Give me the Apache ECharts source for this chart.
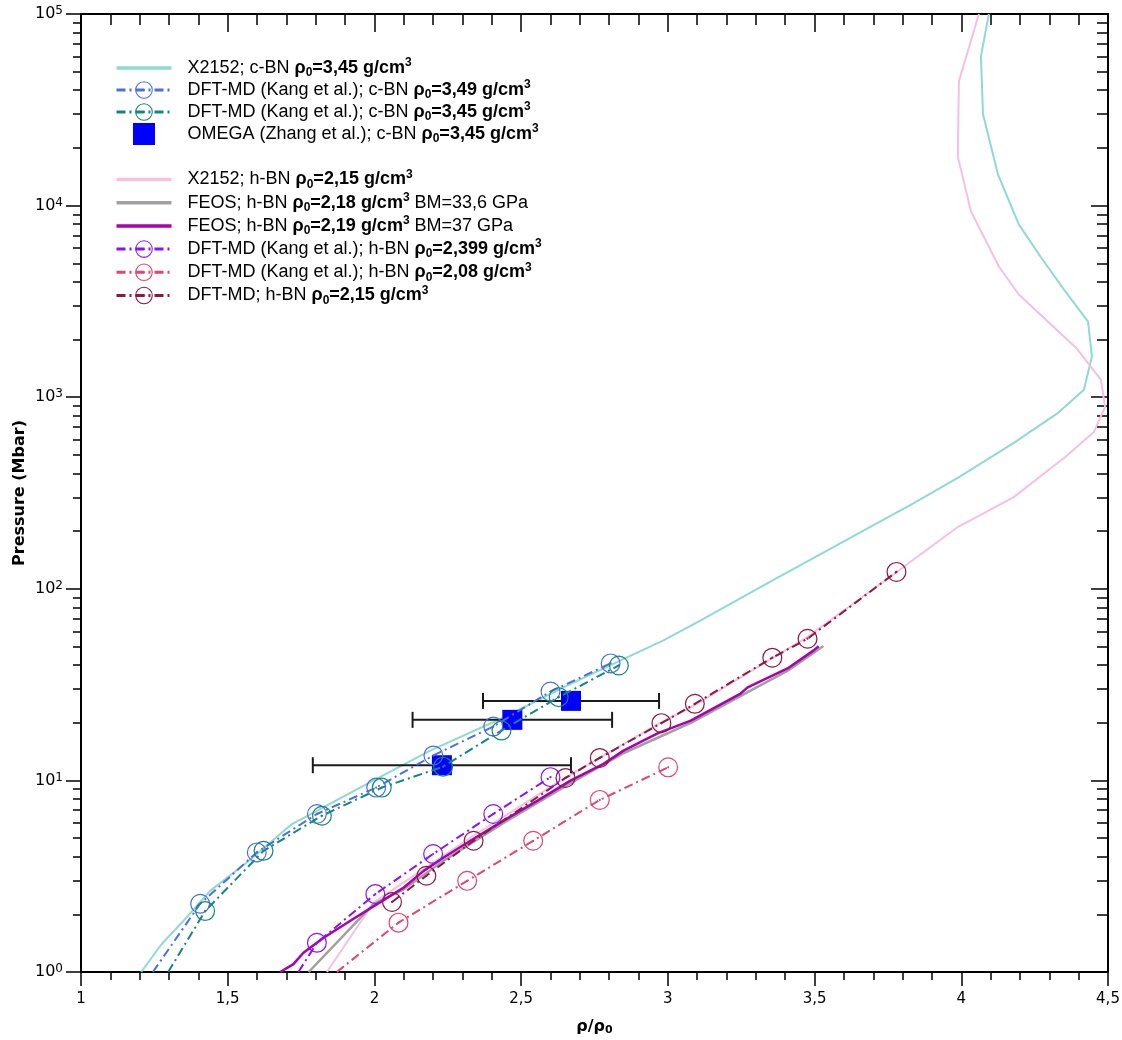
<!DOCTYPE html>
<html>
<head>
<meta charset="utf-8">
<title>BN shock Hugoniot</title>
<script src="https://cdn.jsdelivr.net/npm/echarts@6.0.0/dist/echarts.min.js"></script>
<style>
  html, body { margin: 0; padding: 0; background: #ffffff; }
  #chart { width: 1122px; height: 1040px; }
</style>
</head>
<body>
<div id="chart"></div>
<script>
// ---------------- data: compression ρ/ρ0 and pressure (Mbar) ----------------

// c-BN, X2152 table, ρ0 = 3.45 g/cm3
const cbnX2152Rho = [1.205, 1.275, 1.349, 1.440, 1.565, 1.719, 1.975, 2.19, 2.44, 2.644, 2.839, 2.985,
  3.112, 3.340, 3.589, 3.838, 3.988, 4.179, 4.330, 4.418, 4.445, 4.432, 4.350, 4.272, 4.196, 4.125,
  4.074, 4.067, 4.094];
const cbnX2152P = [1.0, 1.40, 1.85, 2.65, 3.73, 5.92, 9.59, 14.3, 21.3, 30.6, 42.3, 53.8,
  68.5, 107, 173, 280, 379, 578, 829, 1093, 1627, 2477, 3645, 5357, 7976, 14560,
  30000, 60300, 100000];

// c-BN, DFT-MD (Kang et al.), ρ0 = 3.49 g/cm3 (first point: crossing of the 1 Mbar axis)
const cbnKang349Rho = [1.245, 1.406, 1.599, 1.804, 2.006, 2.201, 2.405, 2.600, 2.805];
const cbnKang349P = [1.0, 2.27, 4.21, 6.68, 9.17, 13.5, 19.1, 29.1, 40.8];

// c-BN, DFT-MD (Kang et al.), ρ0 = 3.45 g/cm3
const cbnKang345Rho = [1.297, 1.423, 1.622, 1.821, 2.025, 2.234, 2.433, 2.628, 2.833];
const cbnKang345P = [1.0, 2.08, 4.29, 6.54, 9.17, 11.8, 18.2, 27.2, 39.8];

// c-BN, OMEGA laser shots (Zhang et al.) with ρ/ρ0 uncertainty
const omegaRho = [2.23, 2.47, 2.67];
const omegaP = [12.0, 20.7, 26.0];
const omegaRhoErr = [0.44, 0.34, 0.30];

// h-BN, X2152 table, ρ0 = 2.15 g/cm3
const hbnX2152Rho = [1.838, 1.997, 2.327, 2.634, 2.975, 3.078, 3.475, 3.779, 3.988, 4.179, 4.350,
  4.452, 4.490, 4.476, 4.391, 4.196, 4.128, 4.033, 3.988, 3.992, 4.060];
const hbnX2152P = [1.0, 2.30, 5.02, 9.97, 20.0, 24.0, 56.0, 122, 210, 301, 482,
  659, 891, 1233, 1812, 3435, 4808, 9330, 18070, 44650, 100000];

// h-BN, FEOS, ρ0 = 2.18 g/cm3, BM = 33.6 GPa
const hbnFeos218Rho = [1.776, 1.997, 2.10, 2.24, 2.44, 2.67, 2.85, 3.08, 3.25, 3.41, 3.53];
const hbnFeos218P = [1.0, 2.26, 2.70, 3.85, 6.0, 9.7, 13.9, 20.0, 27.7, 37.5, 50.3];

// h-BN, FEOS, ρ0 = 2.19 g/cm3, BM = 37 GPa
const hbnFeos219Rho = [1.679, 1.724, 1.758, 1.827, 1.918, 2.009, 2.100, 2.168, 2.236, 2.327, 2.44,
  2.556, 2.668, 2.781, 2.849, 2.965, 3.078, 3.248, 3.272, 3.408, 3.497, 3.514];
const hbnFeos219P = [1.0, 1.10, 1.26, 1.51, 1.85, 2.26, 2.76, 3.37, 3.96, 4.84, 6.17,
  7.84, 9.97, 12.2, 14.3, 17.6, 20.5, 28.4, 30.6, 38.4, 47.7, 50.1];

// h-BN, DFT-MD (Kang et al.), ρ0 = 2.399 g/cm3
const hbnKang2399Rho = [1.741, 1.804, 2.003, 2.200, 2.405, 2.600];
const hbnKang2399P = [1.0, 1.42, 2.55, 4.13, 6.68, 10.4];

// h-BN, DFT-MD (Kang et al.), ρ0 = 2.08 g/cm3
const hbnKang208Rho = [1.872, 2.082, 2.316, 2.541, 2.768, 3.001];
const hbnKang208P = [1.0, 1.81, 2.99, 4.84, 7.91, 11.7];

// h-BN, DFT-MD, ρ0 = 2.15 g/cm3
const hbnDft215Rho = [2.060, 2.177, 2.338, 2.651, 2.768, 2.978, 3.092, 3.356, 3.476, 3.779];
const hbnDft215P = [2.32, 3.18, 4.84, 10.3, 13.1, 19.9, 25.1, 43.7, 54.9, 122.5];

// axis ticks
const pressureDecades = [1, 10, 100, 1000, 10000, 100000];
const pressureMinor = [];
pressureDecades.slice(0, -1).forEach(d => { for (let k = 2; k <= 9; k++) pressureMinor.push(d * k); });

// legend entries (two blocks)
const NAMES = {
  cbnX2152: 'X2152; c-BN ρ0=3,45 g/cm3',
  cbnKang349: 'DFT-MD (Kang et al.); c-BN ρ0=3,49 g/cm3',
  cbnKang345: 'DFT-MD (Kang et al.); c-BN ρ0=3,45 g/cm3',
  omega: 'OMEGA (Zhang et al.); c-BN ρ0=3,45 g/cm3',
  hbnX2152: 'X2152; h-BN ρ0=2,15 g/cm3',
  hbnFeos218: 'FEOS; h-BN ρ0=2,18 g/cm3 BM=33,6 GPa',
  hbnFeos219: 'FEOS; h-BN ρ0=2,19 g/cm3 BM=37 GPa',
  hbnKang2399: 'DFT-MD (Kang et al.); h-BN ρ0=2,399 g/cm3',
  hbnKang208: 'DFT-MD (Kang et al.); h-BN ρ0=2,08 g/cm3',
  hbnDft215: 'DFT-MD; h-BN ρ0=2,15 g/cm3'
};

// ---------------- styling ----------------
const FONT_TEXT = '"Liberation Sans", Arial, sans-serif';
const FONT_AXIS = '"DejaVu Sans", Verdana, sans-serif';

// open circle with a centre dot
const RING = 'path://M10 0A10 10 0 1 1 10 20A10 10 0 1 1 10 0ZM10 1.2A8.8 8.8 0 1 0 10 18.8A8.8 8.8 0 1 0 10 1.2ZM10 8.9A1.1 1.1 0 1 1 10 11.1A1.1 1.1 0 1 1 10 8.9Z';
const SQUARE = 'path://M0 0L20 0L20 20L0 20Z';
const BAR = 'path://M0 0L55 0L55 3.5L0 3.5Z';
const DASH_DOT = [9, 4, 2, 4];

const COLORS = {
  cbnX2152: '#8fdad1',
  cbnKang349: '#4b6fe0',
  cbnKang345: '#15857f',
  omega: '#0000ff',
  hbnX2152: '#f6c0de',
  hbnFeos218: '#a0a0a0',
  hbnFeos219: '#aa00ad',
  hbnKang2399: '#8a10ff',
  hbnKang208: '#e0466e',
  hbnDft215: '#8e1744'
};
const SOLID_KEYS = ['cbnX2152', 'hbnX2152', 'hbnFeos218', 'hbnFeos219'];

function pairs(xs, ys) { return xs.map((x, i) => [x, ys[i]]); }

function solidLine(key, xs, ys, width, z) {
  const c = COLORS[key];
  return {
    name: NAMES[key], type: 'line', data: pairs(xs, ys), symbol: 'none',
    color: c, itemStyle: { color: c }, lineStyle: { color: c, width: width }, z: z,
    emphasis: { disabled: true }, silent: true
  };
}

function dftLine(key, xs, ys, startsAtAxis) {
  const c = COLORS[key];
  const data = pairs(xs, ys).map((p, i) => (startsAtAxis && i === 0) ? { value: p, symbol: 'none' } : p);
  return {
    name: NAMES[key], type: 'line', data: data, symbol: RING, symbolSize: 20,
    showSymbol: true, showAllSymbol: true, color: c,
    itemStyle: { color: c }, lineStyle: { color: c, width: 2, type: DASH_DOT },
    z: 5, emphasis: { disabled: true }, silent: true
  };
}

const legendRich = {
  b: { fontFamily: FONT_TEXT, fontWeight: 'bold', fontSize: 18, lineHeight: 22, color: '#000' },
  s: { fontFamily: FONT_TEXT, fontWeight: 'bold', fontSize: 12, lineHeight: 14, verticalAlign: 'bottom', color: '#000' },
  p: { fontFamily: FONT_TEXT, fontWeight: 'bold', fontSize: 12, lineHeight: 12, verticalAlign: 'top', color: '#000' }
};
function legendLabel(name) {
  return name.replace(/ρ0=([\d,]+) g\/cm3/, '{b|ρ}{s|0}{b|=$1 g/cm}{p|3}');
}
function legendItem(name) {
  if (name === NAMES.omega) return { name: name, icon: SQUARE };
  const key = Object.keys(NAMES).find(k => NAMES[k] === name);
  if (SOLID_KEYS.indexOf(key) >= 0) return { name: name, icon: BAR };
  return name;
}
function legendBlock(names, top, gap) {
  return {
    show: true, orient: 'vertical', left: 115, top: top, padding: 0,
    itemWidth: 55, itemHeight: 22, itemGap: gap, selectedMode: false,
    data: names.map(legendItem),
    formatter: legendLabel,
    lineStyle: { width: 3 },
    textStyle: { fontFamily: FONT_TEXT, fontSize: 18, lineHeight: 22, color: '#000', padding: [0, 0, 0, 11], rich: legendRich }
  };
}

const tickStyle = { color: '#000', width: 1.5 };
const lineStyleAxis = { color: '#000', width: 2 };

const option = {
  animation: false,
  backgroundColor: '#ffffff',
  grid: { left: 81, right: 14, top: 14, bottom: 68, outerBoundsMode: 'none' },
  legend: [
    legendBlock([NAMES.cbnX2152, NAMES.cbnKang349, NAMES.cbnKang345, NAMES.omega], 57, 0),
    legendBlock([NAMES.hbnX2152, NAMES.hbnFeos218, NAMES.hbnFeos219, NAMES.hbnKang2399, NAMES.hbnKang208, NAMES.hbnDft215], 168.5, 1.2)
  ],
  xAxis: [
    {
      type: 'value', position: 'bottom', min: 1, max: 4.5, interval: 0.5,
      axisLine: { show: true, onZero: false, lineStyle: lineStyleAxis },
      axisTick: { show: true, length: 14, lineStyle: tickStyle },
      minorTick: { show: true, splitNumber: 5, length: 8, lineStyle: tickStyle },
      splitLine: { show: false }, minorSplitLine: { show: false },
      axisLabel: {
        margin: 20, color: '#000', fontFamily: FONT_AXIS, fontSize: 15,
        formatter: v => String(v).replace('.', ',')
      },
      name: '{b|ρ/ρ}{s|0}', nameLocation: 'middle', nameGap: 46,
      nameTextStyle: {
        rich: {
          b: { fontFamily: FONT_AXIS, fontWeight: 'bold', fontSize: 16, lineHeight: 18, color: '#000' },
          s: { fontFamily: FONT_AXIS, fontWeight: 'bold', fontSize: 11, lineHeight: 9, verticalAlign: 'bottom', color: '#000' }
        }
      }
    },
    {
      type: 'value', position: 'top', min: 1, max: 4.5, interval: 0.5,
      axisLine: { show: true, onZero: false, lineStyle: lineStyleAxis },
      axisTick: { show: true, inside: true, length: 18, lineStyle: tickStyle },
      minorTick: { show: true, splitNumber: 5, length: 11, lineStyle: tickStyle },
      splitLine: { show: false }, axisLabel: { show: false }
    }
  ],
  yAxis: [
    {
      type: 'log', logBase: 10, position: 'left', min: 1, max: 100000,
      axisLine: { show: true, onZero: false, lineStyle: lineStyleAxis },
      axisTick: { show: true, length: 15, lineStyle: tickStyle, customValues: pressureDecades },
      minorTick: { show: false }, splitLine: { show: false },
      axisLabel: {
        customValues: pressureDecades, margin: 18, color: '#000',
        fontFamily: FONT_AXIS, fontSize: 16, lineHeight: 18,
        formatter: v => '10{p|' + Math.round(Math.log10(v)) + '}',
        rich: { p: { fontFamily: FONT_AXIS, fontSize: 12, lineHeight: 11, verticalAlign: 'top', color: '#000' } }
      },
      name: 'Pressure (Mbar)', nameLocation: 'middle', nameGap: 53, nameMoveOverlap: false,
      nameTextStyle: { fontFamily: FONT_AXIS, fontWeight: 'bold', fontSize: 16, color: '#000' }
    },
    {
      type: 'log', logBase: 10, position: 'left', min: 1, max: 100000,
      axisLine: { show: false },
      axisTick: { show: true, length: 8, lineStyle: tickStyle, customValues: pressureMinor },
      splitLine: { show: false }, axisLabel: { show: false }
    },
    {
      type: 'log', logBase: 10, position: 'right', min: 1, max: 100000,
      axisLine: { show: true, onZero: false, lineStyle: lineStyleAxis },
      axisTick: { show: true, inside: true, length: 17, lineStyle: tickStyle, customValues: pressureDecades },
      splitLine: { show: false }, axisLabel: { show: false }
    },
    {
      type: 'log', logBase: 10, position: 'right', min: 1, max: 100000,
      axisLine: { show: false },
      axisTick: { show: true, inside: true, length: 11, lineStyle: tickStyle, customValues: pressureMinor },
      splitLine: { show: false }, axisLabel: { show: false }
    }
  ],
  series: [
    solidLine('cbnX2152', cbnX2152Rho, cbnX2152P, 2, 2),
    solidLine('hbnX2152', hbnX2152Rho, hbnX2152P, 2, 2),
    solidLine('hbnFeos218', hbnFeos218Rho, hbnFeos218P, 2.5, 3),
    solidLine('hbnFeos219', hbnFeos219Rho, hbnFeos219P, 2.5, 3),
    {
      name: 'omega-error', type: 'custom', silent: true, z: 3,
      data: omegaRho.map((x, i) => [x, omegaP[i], omegaRhoErr[i]]),
      encode: { x: 0, y: 1 },
      renderItem: function (params, api) {
        const x = api.value(0), y = api.value(1), e = api.value(2);
        const a = api.coord([x - e, y]);
        const b = api.coord([x + e, y]);
        const h = 8;
        const st = { stroke: '#1a1a1a', lineWidth: 2 };
        return {
          type: 'group',
          children: [
            { type: 'line', shape: { x1: a[0], y1: a[1], x2: b[0], y2: b[1] }, style: st },
            { type: 'line', shape: { x1: a[0], y1: a[1] - h, x2: a[0], y2: a[1] + h }, style: st },
            { type: 'line', shape: { x1: b[0], y1: b[1] - h, x2: b[0], y2: b[1] + h }, style: st }
          ]
        };
      }
    },
    {
      name: NAMES.omega, type: 'scatter', data: pairs(omegaRho, omegaP),
      symbol: 'rect', symbolSize: 20, color: COLORS.omega,
      itemStyle: { color: COLORS.omega, opacity: 1 }, z: 4, silent: true, emphasis: { disabled: true }
    },
    dftLine('cbnKang349', cbnKang349Rho, cbnKang349P, true),
    dftLine('cbnKang345', cbnKang345Rho, cbnKang345P, true),
    dftLine('hbnKang2399', hbnKang2399Rho, hbnKang2399P, true),
    dftLine('hbnKang208', hbnKang208Rho, hbnKang208P, true),
    dftLine('hbnDft215', hbnDft215Rho, hbnDft215P, false)
  ]
};

const chart = echarts.init(document.getElementById('chart'), null, { renderer: 'canvas' });
chart.setOption(option);
</script>
</body>
</html>
